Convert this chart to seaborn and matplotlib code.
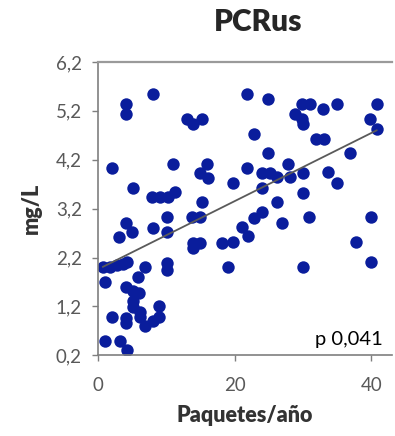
import numpy as np
import pandas as pd
import matplotlib
matplotlib.use("Agg")
import matplotlib.pyplot as plt
import seaborn as sns

# values
paquetes = [4.1, 4.1, 8.05, 13.0, 13.9, 15.2, 21.8, 24.9, 29.9, 31.0,
            28.8, 29.9, 30.0, 32.9, 35.0, 40.8, 39.8, 40.8, 22.8, 31.9,
            33.1, 24.9, 36.9, 2.05, 11.0, 16.0, 14.9, 16.1, 21.8, 27.8,
            24.0, 25.2, 26.2, 28.1, 30.0, 33.7, 35.0, 19.8, 24.0, 30.0,
            5.1, 7.9, 9.1, 10.25, 11.3, 15.2, 26.2, 24.0, 22.8, 21.1,
            22.0, 26.9, 30.9, 40.0, 37.8, 40.0, 30.0, 19.8, 18.2, 13.9,
            14.9, 13.9, 10.1, 13.8, 14.9, 10.1, 8.05, 4.1, 5.0, 3.1,
            10.1, 10.1, 19.0, 0.7, 1.8, 2.8, 3.7, 4.25, 6.9, 5.9,
            1.0, 4.1, 5.1, 6.0, 5.1, 5.1, 6.15, 8.9, 2.05, 4.1,
            4.1, 6.15, 6.9, 8.05, 8.9, 1.0, 3.2, 4.25]
mg_l = [5.34, 5.14, 5.55, 5.04, 4.94, 5.04, 5.55, 5.44, 5.34, 5.34,
        5.14, 5.04, 4.94, 5.24, 5.34, 5.34, 5.04, 4.83, 4.73, 4.63,
        4.63, 4.33, 4.33, 4.04, 4.12, 4.12, 3.92, 3.82, 4.04, 4.12,
        3.92, 3.92, 3.84, 3.84, 3.92, 3.94, 3.72, 3.72, 3.63, 3.51,
        3.63, 3.43, 3.43, 3.43, 3.53, 3.33, 3.33, 3.13, 3.00, 2.82,
        2.64, 2.90, 3.03, 3.03, 2.52, 2.11, 2.01, 2.52, 2.50, 2.50,
        2.50, 2.40, 3.03, 3.03, 3.03, 2.72, 2.80, 2.90, 2.72, 2.62,
        2.09, 1.95, 2.01, 2.01, 2.01, 2.05, 2.07, 2.11, 2.01, 1.81,
        1.70, 1.60, 1.52, 1.48, 1.32, 1.18, 1.09, 1.20, 0.99, 0.97,
        0.87, 0.99, 0.81, 0.91, 0.99, 0.50, 0.50, 0.30]
y_ticks = [0.2, 1.2, 2.2, 3.2, 4.2, 5.2, 6.2]
x_ticks = [0, 20, 40]
p_text = 'p 0,041'

df = pd.DataFrame({'Paquetes/año': paquetes, 'mg/L': mg_l})

sns.set_style("ticks")
plt.rcParams['font.family'] = ['Lato', 'DejaVu Sans']

fig = plt.figure(figsize=(3.95, 4.36), dpi=100)
ax = fig.add_axes([0.248, 0.185, 0.744, 0.673])

sns.regplot(x='Paquetes/año', y='mg/L', data=df, ci=None, ax=ax,
            scatter_kws=dict(s=80, color='#0a1d9c', linewidths=0, alpha=1),
            line_kws=dict(color='#5a5a5a', lw=1.3))

ax.set_xlim(0, 43)
ax.set_ylim(0.2, 6.2)
ax.set_xticks(x_ticks)
ax.set_yticks(y_ticks)
ax.set_yticklabels([f'{v:.1f}'.replace('.', ',') for v in y_ticks])
ax.tick_params(axis='both', direction='out', length=4.5, width=1,
               color='#7f7f7f', labelcolor='#595959', labelsize=13.5)
ax.tick_params(axis='y', pad=7)
ax.tick_params(axis='x', pad=11)

for side in ['left', 'bottom']:
    ax.spines[side].set_color('#7f7f7f')
    ax.spines[side].set_linewidth(1.2)
ax.spines['top'].set_color('#9a9a9a')
ax.spines['top'].set_linewidth(1.6)
ax.spines['right'].set_visible(False)

ax.set_xlabel('Paquetes/año', fontsize=15.5, weight='heavy', color='#333333', labelpad=8)
ax.set_ylabel('mg/L', fontsize=15.5, weight='heavy', color='#333333', labelpad=10)
fig.text(0.653, 0.95, 'PCRus', ha='center', va='center', fontsize=21.5, weight='heavy')
ax.text(0.97, 0.055, p_text, transform=ax.transAxes, ha='right', va='center',
        fontsize=14.5, color='black')

plt.savefig('out.png', dpi=100)
